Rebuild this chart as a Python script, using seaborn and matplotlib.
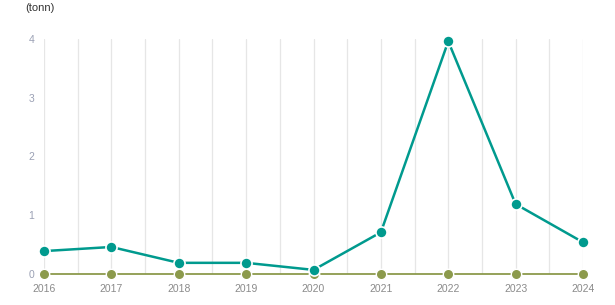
import matplotlib
matplotlib.use("Agg")
import matplotlib.pyplot as plt
import seaborn as sns
import pandas as pd
import numpy as np

years = [2016, 2017, 2018, 2019, 2020, 2021, 2022, 2023, 2024]
series_a = [0.39, 0.46, 0.19, 0.19, 0.07, 0.71, 3.96, 1.19, 0.54]
series_b = [0, 0, 0, 0, 0, 0, 0, 0, 0]
y_ticks = [0, 1, 2, 3, 4]
unit_label = "(tonn)"

sns.set_theme(style="white")
plt.rcParams['font.family'] = ['Liberation Sans', 'DejaVu Sans']

df = pd.DataFrame({
    "year": years * 2,
    "value": series_a + series_b,
    "series": ["A"] * len(years) + ["B"] * len(years),
})

fig = plt.figure(figsize=(6.15, 3.05), dpi=100)
ax = fig.add_axes([44/615, 1 - 274/305, (583-44)/615, (274-39)/305])

teal = "#009a8e"
olive = "#8c9a4c"

# vertical gridlines at years and midpoints
for x in np.arange(2016, 2024.01, 0.5):
    ax.axvline(x, color="#e6e6e6", lw=0.9, zorder=0)

sns.lineplot(data=df[df.series == "B"], x="year", y="value", ax=ax, color=olive,
             lw=1.3, marker="o", markersize=7.5, markeredgecolor="white",
             markeredgewidth=1.0, clip_on=False, zorder=3, legend=False)
sns.lineplot(data=df[df.series == "A"], x="year", y="value", ax=ax, color=teal,
             lw=1.8, marker="o", markersize=8, markeredgecolor="white",
             markeredgewidth=1.2, clip_on=False, zorder=4, legend=False)

ax.set_xlim(2016, 2024)
ax.set_ylim(0, 4)
ax.set_xticks(years)
ax.set_xticklabels([str(y) for y in years])
ax.set_yticks(y_ticks)
ax.set_xlabel("")
ax.set_ylabel("")
for s in ax.spines.values():
    s.set_visible(False)
ax.tick_params(axis="x", length=0, pad=7, labelsize=7.5, labelcolor="#8a8a8a")
ax.tick_params(axis="y", length=5, width=0.8, color="#d8d8d8", pad=2,
               labelsize=7.5, labelcolor="#9aa0b4")
fig.text(25/615, 1 - 8/305, unit_label, fontsize=8, color="#333333", va="center", ha="left")

fig.savefig("out.png", dpi=100)
